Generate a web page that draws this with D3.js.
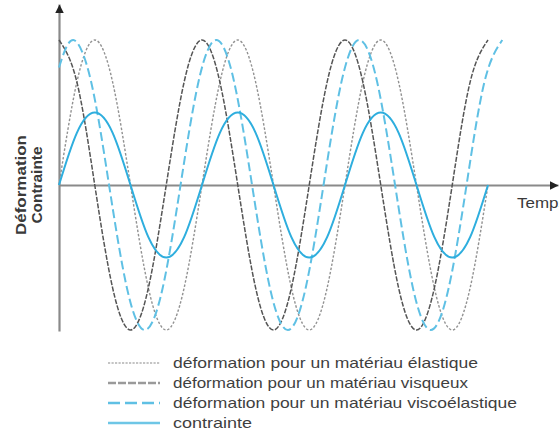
<!DOCTYPE html>
<html><head><meta charset="utf-8">
<script src="https://cdn.jsdelivr.net/npm/d3@7"></script>
<style>
html,body{margin:0;padding:0;background:#fff;}
svg{display:block;font-family:"Liberation Sans",Arial,Helvetica,sans-serif;}
</style></head>
<body>
<svg id="c" width="559" height="435"></svg>
<script>
// time in periods
const tGrid = [0,0.125,0.25,0.375,0.5,0.625,0.75,0.875,1,1.125,1.25,1.375,1.5,1.625,1.75,1.875,2,2.125,2.25,2.375,2.5,2.625,2.75,2.875,3];
const elastic = [0,0.71,1,0.71,0,-0.71,-1,-0.71,0,0.71,1,0.71,0,-0.71,-1,-0.71,0,0.71,1,0.71,0,-0.71,-1,-0.71,0];
const viscous = [1,0.71,0,-0.71,-1,-0.71,0,0.71,1,0.71,0,-0.71,-1,-0.71,0,0.71,1,0.71,0,-0.71,-1,-0.71,0,0.71,1];
const stress = [0,0.36,0.5,0.36,0,-0.36,-0.5,-0.36,0,0.36,0.5,0.36,0,-0.36,-0.5,-0.36,0,0.36,0.5,0.36,0,-0.36,-0.5,-0.36,0];
const tVisco = [0,0.1,0.225,0.35,0.475,0.6,0.725,0.85,0.975,1.1,1.225,1.35,1.475,1.6,1.725,1.85,1.975,2.1,2.225,2.35,2.475,2.6,2.725,2.85,2.975,3.1];
const viscoelastic = [0.81,1,0.71,0,-0.71,-1,-0.71,0,0.71,1,0.71,0,-0.71,-1,-0.71,0,0.71,1,0.71,0,-0.71,-1,-0.71,0,0.71,1];
const legendLabels = ["déformation pour un matériau élastique","déformation pour un matériau visqueux","déformation pour un matériau viscoélastique","contrainte"];
const yLabels = ["Déformation","Contrainte"];
const xLabel = "Temps";

const svg = d3.select("#c");
const x = d3.scaleLinear().domain([0,3]).range([59,488]);
const y = d3.scaleLinear().domain([-1,1]).range([330,40]);

// arrow markers
const defs = svg.append("defs");
defs.append("marker").attr("id","arr").attr("viewBox","0 0 10 10").attr("refX",10).attr("refY",5)
  .attr("markerWidth",4).attr("markerHeight",4).attr("markerUnits","strokeWidth").attr("orient","auto")
  .append("path").attr("d","M0,0 L10,5 L0,10 Z").attr("fill","#222");

// axes
const xAxisScale = d3.scaleLinear().domain([0,1]).range([59,558]);
const gx = svg.append("g").attr("transform",`translate(0,${y(0)})`)
  .call(d3.axisBottom(xAxisScale).tickValues([]).tickSizeOuter(0));
gx.select(".domain").attr("stroke","#8a8a8a").attr("stroke-width",2.2).attr("marker-end","url(#arr)");
const yAxisScale = d3.scaleLinear().domain([0,1]).range([331,4]);
const gy = svg.append("g").attr("transform",`translate(59,0)`)
  .call(d3.axisLeft(yAxisScale).tickValues([]).tickSizeOuter(0));
gy.select(".domain").attr("stroke","#8a8a8a").attr("stroke-width",2.2).attr("marker-end","url(#arr)");

const line = d3.line().x(d=>x(d[0])).y(d=>y(d[1])).curve(d3.curveNatural);
const styles = [
  {data:d3.zip(tGrid,elastic), color:"#929292", w:1.4, dash:"2.5,1.8"},
  {data:d3.zip(tGrid,viscous), color:"#555555", w:1.5, dash:"5,1.5"},
  {data:d3.zip(tVisco,viscoelastic), color:"#5fc0e4", w:2, dash:"9,4"},
  {data:d3.zip(tGrid,stress), color:"#2eaede", w:2, dash:null}
];
styles.forEach(s=>{
  svg.append("path").attr("d",line(s.data)).attr("fill","none")
    .attr("stroke",s.color).attr("stroke-width",s.w)
    .attr("stroke-dasharray",s.dash);
});

// axis labels
const yl = svg.append("g").attr("transform","translate(0,185) rotate(-90)");
yl.selectAll("text").data(yLabels).join("text")
  .attr("x",0).attr("y",(d,i)=>[26,42][i]).attr("text-anchor","middle")
  .attr("font-size",15).attr("font-weight","bold").attr("fill","#3a3a3a")
  .attr("textLength",(d,i)=>[100,77][i]).attr("lengthAdjust","spacingAndGlyphs").text(d=>d);
svg.append("text").attr("x",517).attr("y",208).attr("font-size",15).attr("fill","#3a3a3a")
  .attr("textLength",50).attr("lengthAdjust","spacingAndGlyphs").text(xLabel);

// legend
const lg = svg.append("g");
const rowY = [363,383,403,423];
const legendColors = ["#8a8a8a","#9a9a9a","#5fc0e4","#6ec6e6"];
lg.selectAll("line").data(styles).join("line")
  .attr("x1",108).attr("x2",160).attr("y1",(d,i)=>rowY[i]).attr("y2",(d,i)=>rowY[i])
  .attr("stroke",(d,i)=>legendColors[i]).attr("stroke-width",(d,i)=>[1.2,2.5,2.5,2.5][i])
  .attr("stroke-dasharray",(d,i)=>["2.2,1.3","8,2","12,5",null][i]);
lg.selectAll("text").data(legendLabels).join("text")
  .attr("x",173).attr("y",(d,i)=>rowY[i]+5).attr("font-size",15).attr("fill","#3f3f3f")
  .attr("textLength",(d,i)=>[305,295,344,79][i]).attr("lengthAdjust","spacingAndGlyphs")
  .text(d=>d);
</script>
</body></html>
